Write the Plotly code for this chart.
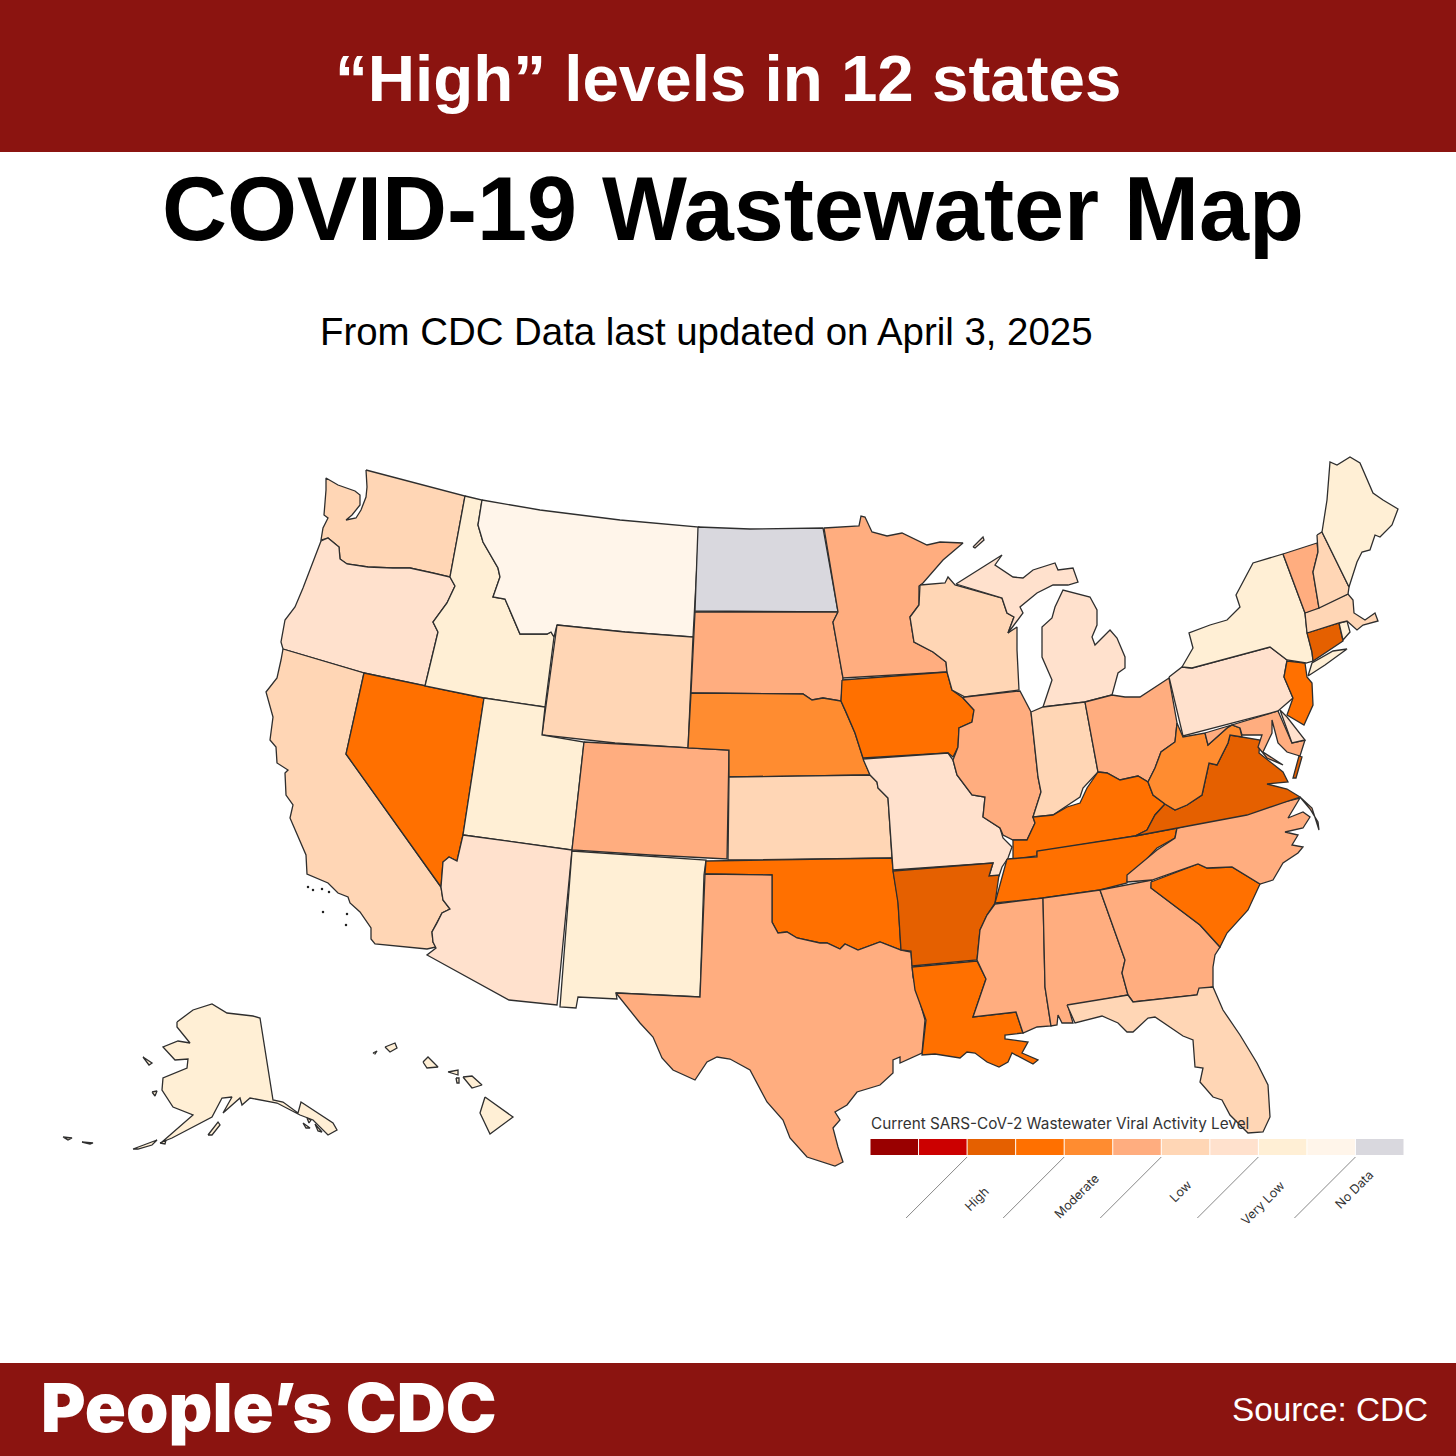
import plotly.graph_objects as go

# legend steps, darkest first
level_colors = ['#990000', '#CC0000', '#E56000', '#FF7000', '#FF8C30', '#FFAD7F',
                '#FFD6B5', '#FFE1CD', '#FFEFD5', '#FFF5EA', '#D9D8DE']
legend_labels = ['High', 'Moderate', 'Low', 'Very Low', 'No Data']
label_steps = [2, 4, 6, 8, 10]
label_x = [976, 1076, 1180, 1262, 1354]
label_y = [1199, 1196, 1191, 1203, 1189]

state_names = ['WA', 'OR', 'CA', 'NV', 'ID', 'MT', 'WY', 'UT', 'AZ', 'CO', 'NM', 'ND', 'SD', 'NE',
               'KS', 'OK', 'TX', 'MN', 'IA', 'MO', 'AR', 'LA', 'WI', 'IL', 'MI', 'IN', 'OH', 'KY',
               'TN', 'MS', 'AL', 'GA', 'FL', 'SC', 'NC', 'VA', 'WV', 'MD', 'DE', 'PA', 'NJ', 'NY',
               'CT', 'RI', 'MA', 'VT', 'NH', 'ME', 'AK', 'HI']
state_levels = [6, 7, 6, 3, 8, 9, 6, 8, 7, 5, 8, 10, 5, 4,
                6, 3, 5, 5, 3, 7, 2, 3, 6, 5, 7, 6, 5, 3,
                3, 5, 5, 5, 6, 3, 5, 2, 4, 5, 7, 7, 3, 8,
                2, 8, 6, 5, 6, 8, 8, 8]

# outlines, one list of parts per state
WA = [[(366, 470), (415, 483), (465, 496), (450, 577), (433, 573), (410, 568), (393, 568), (368, 567),
       (347, 564), (340, 559), (339, 547), (328, 538), (321, 540), (323, 528), (328, 518), (324, 515),
       (326, 490), (326, 478), (338, 485), (355, 491), (360, 495), (360, 505), (352, 515), (346, 520),
       (356, 518), (361, 510), (366, 497), (367, 487)]]
OR = [[(321, 541), (328, 538), (339, 547), (340, 559), (347, 564), (368, 567), (393, 568), (410, 568),
       (433, 573), (450, 577), (455, 586), (447, 603), (433, 622), (438, 632), (425, 686), (364, 673),
       (283, 649), (281, 642), (285, 620), (295, 607), (303, 588), (310, 570)]]
CA = [[(283, 649), (364, 673), (346, 754), (441, 887), (443, 900), (450, 909), (442, 913), (437, 923),
       (432, 932), (433, 942), (436, 947), (427, 949), (375, 944), (371, 939), (371, 928), (360, 912),
       (350, 903), (348, 897), (338, 893), (328, 883), (307, 874), (306, 855), (290, 818), (293, 805),
       (286, 795), (285, 773), (288, 770), (277, 763), (276, 747), (270, 740), (273, 717), (266, 692),
       (277, 678), (281, 660)]]
NV = [[(364, 673), (425, 686), (484, 698), (463, 835), (457, 861), (449, 857), (443, 862), (441, 887),
       (346, 754)]]
ID = [[(465, 496), (482, 500), (478, 525), (483, 542), (498, 568), (500, 577), (493, 597), (505, 599),
       (520, 634), (547, 634), (551, 632), (554, 637), (545, 707), (484, 698), (425, 686), (438, 632),
       (433, 622), (447, 603), (455, 586), (450, 577)]]
MT = [[(482, 500), (540, 510), (620, 520), (699, 527), (693, 637), (625, 632), (557, 625), (554, 637),
       (551, 632), (547, 634), (520, 634), (505, 599), (493, 597), (500, 577), (498, 568), (483, 542),
       (478, 525)]]
WY = [[(557, 625), (625, 632), (693, 637), (688, 748), (615, 743), (542, 735)]]
UT = [[(484, 698), (545, 707), (542, 735), (584, 742), (572, 850), (463, 835)]]
AZ = [[(463, 835), (572, 850), (557, 1005), (509, 1000), (427, 955), (436, 948), (433, 942), (432, 932),
       (437, 923), (442, 913), (450, 909), (443, 900), (441, 887), (443, 862), (449, 857), (457, 861)]]
CO = [[(584, 742), (688, 748), (729, 750), (727, 859), (650, 855), (572, 850)]]
NM = [[(572, 851), (650, 856), (706, 860), (704, 875), (700, 997), (616, 993), (617, 999), (578, 997),
       (576, 1008), (560, 1007)]]
ND = [[(698, 527), (750, 529), (823, 528), (833, 583), (838, 612), (695, 611)]]
SD = [[(695, 612), (838, 612), (833, 622), (838, 650), (843, 678), (841, 701), (823, 698), (812, 700),
       (803, 694), (691, 693)]]
NE = [[(691, 693), (803, 694), (812, 700), (823, 698), (841, 701), (846, 712), (855, 733), (863, 758),
       (870, 775), (729, 777), (729, 750), (688, 748)]]
KS = [[(729, 777), (870, 775), (877, 782), (878, 788), (888, 798), (892, 858), (728, 860)]]
OK = [[(706, 861), (892, 858), (893, 870), (898, 900), (901, 950), (880, 942), (858, 950), (845, 944),
       (840, 949), (827, 943), (820, 943), (797, 938), (787, 932), (778, 933), (772, 922), (772, 875),
       (705, 874)]]
TX = [[(705, 874), (772, 875), (772, 922), (778, 933), (787, 932), (797, 938), (820, 943), (827, 943),
       (840, 949), (845, 944), (858, 950), (880, 942), (901, 950), (911, 952), (913, 977), (925, 1020),
       (922, 1053), (900, 1063), (900, 1057), (893, 1060), (893, 1073), (880, 1085), (857, 1092),
       (847, 1105), (835, 1112), (840, 1120), (833, 1128), (838, 1147), (843, 1162), (835, 1166),
       (807, 1157), (790, 1138), (783, 1120), (767, 1102), (750, 1070), (730, 1059), (717, 1057),
       (707, 1062), (695, 1080), (673, 1070), (662, 1058), (653, 1037), (640, 1023), (617, 995),
       (616, 993), (700, 997)]]
MN = [[(824, 528), (859, 526), (861, 516), (865, 517), (872, 532), (887, 536), (902, 533), (927, 545),
       (940, 542), (963, 543), (943, 560), (923, 583), (919, 586), (919, 605), (910, 617), (914, 642),
       (933, 652), (946, 662), (947, 672), (843, 678), (838, 650), (833, 622), (838, 612), (833, 583)]]
IA = [[(842, 680), (947, 672), (952, 690), (963, 698), (974, 710), (972, 722), (959, 728), (958, 747),
       (953, 757), (948, 753), (863, 758), (855, 733), (846, 712), (841, 701)]]
MO = [[(863, 759), (948, 753), (953, 760), (957, 775), (972, 795), (985, 797), (983, 817), (1000, 828),
       (1003, 838), (1012, 847), (1008, 858), (1002, 867), (999, 876), (989, 876), (993, 863), (893, 870),
       (888, 798), (878, 788), (877, 782), (870, 775)]]
AR = [[(893, 871), (993, 863), (989, 876), (999, 875), (995, 903), (987, 915), (980, 930), (977, 960),
       (912, 966), (911, 951), (901, 950), (898, 903)]]
LA = [[(912, 967), (977, 961), (986, 979), (973, 1017), (1016, 1012), (1023, 1033), (1005, 1035),
       (1005, 1039), (1028, 1042), (1022, 1053), (1038, 1060), (1033, 1064), (1012, 1053), (1008, 1062),
       (999, 1067), (987, 1062), (975, 1053), (967, 1052), (960, 1058), (935, 1054), (922, 1055),
       (926, 1020), (915, 990)]]
WI = [[(920, 585), (945, 583), (948, 577), (955, 585), (1002, 598), (1007, 613), (1014, 617), (1008, 633),
       (1017, 627), (1017, 650), (1019, 690), (965, 697), (952, 690), (947, 672), (946, 662), (933, 652),
       (914, 642), (910, 617), (919, 605)]]
IL = [[(965, 697), (1020, 691), (1031, 712), (1038, 777), (1041, 792), (1033, 817), (1035, 823),
       (1027, 840), (1013, 840), (1003, 835), (1000, 828), (983, 817), (985, 797), (972, 795), (957, 775),
       (953, 760), (958, 747), (959, 728), (972, 722), (974, 710), (963, 698)]]
MI = [[(1043, 707), (1052, 680), (1042, 657), (1042, 627), (1052, 618), (1055, 607), (1063, 590),
       (1090, 597), (1097, 610), (1097, 625), (1092, 637), (1095, 645), (1110, 630), (1117, 638),
       (1125, 657), (1125, 668), (1118, 673), (1112, 695), (1085, 702)],
      [(956, 584), (987, 565), (1002, 555), (995, 565), (1013, 577), (1023, 578), (1033, 570), (1055, 563),
       (1058, 570), (1073, 568), (1078, 582), (1068, 585), (1053, 585), (1037, 593), (1020, 607),
       (1023, 613), (1008, 633), (1014, 617), (1007, 613), (1002, 598)],
      [(973, 547), (983, 537), (984, 540), (975, 548)]]
IN = [[(1031, 712), (1043, 707), (1085, 702), (1098, 772), (1083, 788), (1080, 797), (1068, 805),
       (1053, 815), (1033, 817), (1041, 792), (1038, 777)]]
OH = [[(1085, 702), (1112, 695), (1125, 697), (1140, 697), (1169, 678), (1177, 723), (1175, 742),
       (1161, 752), (1155, 768), (1148, 782), (1138, 776), (1120, 780), (1107, 773), (1098, 772)]]
KY = [[(1098, 772), (1107, 773), (1120, 780), (1138, 776), (1148, 782), (1153, 795), (1165, 804),
       (1155, 815), (1147, 830), (1135, 836), (1037, 852), (1037, 856), (1013, 859), (1013, 840),
       (1027, 840), (1035, 823), (1033, 817), (1053, 815), (1067, 807), (1080, 803), (1087, 788)]]
TN = [[(1007, 859), (1037, 857), (1037, 851), (1135, 836), (1177, 828), (1175, 838), (1157, 848),
       (1143, 863), (1128, 875), (1127, 883), (1100, 890), (1043, 898), (995, 903), (1000, 885)]]
MS = [[(995, 904), (1043, 898), (1045, 987), (1051, 1026), (1037, 1027), (1023, 1033), (1016, 1012),
       (973, 1017), (986, 979), (977, 960), (980, 930), (987, 915)]]
AL = [[(1043, 898), (1100, 890), (1125, 960), (1122, 973), (1128, 995), (1068, 1006), (1073, 1023),
       (1062, 1023), (1058, 1015), (1057, 1025), (1051, 1026), (1045, 987)]]
GA = [[(1100, 890), (1152, 880), (1151, 888), (1200, 925), (1220, 947), (1215, 955), (1213, 967),
       (1213, 987), (1199, 990), (1197, 995), (1133, 1002), (1128, 995), (1122, 973), (1125, 960)]]
FL = [[(1067, 1005), (1128, 995), (1133, 1002), (1197, 995), (1199, 988), (1213, 987), (1223, 1010),
       (1240, 1035), (1257, 1063), (1268, 1085), (1270, 1117), (1263, 1132), (1248, 1133), (1230, 1115),
       (1222, 1100), (1213, 1097), (1200, 1082), (1203, 1068), (1195, 1067), (1193, 1040), (1183, 1036),
       (1155, 1017), (1148, 1018), (1133, 1032), (1127, 1032), (1118, 1023), (1102, 1016), (1075, 1023)]]
SC = [[(1151, 882), (1198, 864), (1207, 868), (1232, 867), (1260, 884), (1248, 910), (1227, 933),
       (1220, 947), (1200, 925), (1151, 888)]]
NC = [[(1127, 882), (1127, 875), (1157, 850), (1175, 838), (1177, 828), (1300, 798), (1288, 818),
       (1303, 812), (1310, 817), (1303, 828), (1285, 832), (1298, 835), (1292, 845), (1303, 847),
       (1298, 853), (1283, 863), (1273, 880), (1260, 884), (1232, 867), (1207, 868), (1198, 864),
       (1152, 880)],
      [(1300, 797), (1312, 808), (1319, 830), (1318, 822), (1310, 809)]]
VA = [[(1230, 735), (1242, 737), (1260, 740), (1259, 753), (1283, 772), (1288, 782), (1267, 784),
       (1287, 789), (1300, 797), (1247, 815), (1177, 828), (1135, 836), (1147, 830), (1155, 815),
       (1165, 804), (1175, 810), (1187, 805), (1202, 795), (1209, 763), (1217, 765), (1228, 743)],
      [(1299, 756), (1293, 778), (1296, 778), (1302, 757)]]
WV = [[(1177, 723), (1183, 737), (1205, 733), (1208, 745), (1227, 728), (1232, 725), (1240, 728),
       (1242, 737), (1230, 735), (1228, 743), (1217, 765), (1209, 763), (1202, 795), (1187, 805),
       (1175, 810), (1165, 804), (1153, 795), (1148, 782), (1155, 768), (1161, 752), (1175, 742)]]
MD = [[(1205, 733), (1278, 711), (1292, 743), (1305, 740), (1300, 756), (1287, 752), (1278, 743),
       (1272, 720), (1272, 733), (1263, 752), (1283, 765), (1267, 758), (1258, 747), (1262, 735),
       (1242, 735), (1240, 728), (1232, 725), (1227, 728), (1208, 745)]]
DE = [[(1280, 710), (1287, 717), (1305, 740), (1292, 743)]]
PA = [[(1169, 677), (1182, 667), (1192, 668), (1270, 647), (1287, 660), (1284, 677), (1293, 698),
       (1278, 711), (1183, 736)]]
NJ = [[(1287, 661), (1305, 663), (1307, 677), (1312, 683), (1313, 705), (1304, 725), (1287, 715),
       (1293, 698), (1284, 677)]]
NY = [[(1182, 667), (1193, 648), (1189, 633), (1210, 625), (1227, 620), (1240, 607), (1236, 595),
       (1253, 563), (1283, 554), (1305, 613), (1307, 632), (1312, 652), (1313, 661), (1306, 663),
       (1287, 660), (1270, 647), (1192, 668)],
      [(1308, 676), (1325, 665), (1347, 649), (1333, 651), (1312, 663)]]
CT = [[(1307, 633), (1339, 623), (1343, 641), (1313, 661), (1312, 652)]]
RI = [[(1339, 623), (1347, 621), (1350, 632), (1343, 640)]]
MA = [[(1305, 613), (1348, 594), (1353, 600), (1354, 613), (1365, 620), (1375, 613), (1378, 621),
       (1363, 625), (1357, 630), (1347, 621), (1339, 623), (1307, 633)]]
VT = [[(1283, 554), (1317, 543), (1318, 552), (1313, 572), (1319, 608), (1305, 613)]]
NH = [[(1317, 535), (1322, 532), (1349, 587), (1348, 594), (1319, 608), (1313, 572), (1318, 552)]]
ME = [[(1322, 532), (1327, 500), (1330, 462), (1337, 465), (1350, 457), (1360, 463), (1373, 493),
       (1383, 500), (1398, 509), (1392, 525), (1380, 537), (1375, 535), (1370, 550), (1362, 552),
       (1357, 562), (1352, 578), (1349, 587)]]
AK = [[(177, 1022), (193, 1010), (212, 1004), (227, 1013), (253, 1016), (260, 1018), (273, 1100),
       (283, 1102), (298, 1113), (301, 1102), (333, 1123), (337, 1130), (328, 1135), (313, 1120),
       (300, 1115), (277, 1103), (250, 1098), (242, 1105), (240, 1098), (223, 1113), (232, 1097),
       (222, 1098), (212, 1117), (172, 1138), (162, 1142), (193, 1115), (173, 1107), (162, 1090),
       (163, 1078), (187, 1068), (188, 1059), (175, 1060), (163, 1047), (178, 1041), (190, 1043),
       (177, 1027)],
      [(208, 1135), (218, 1122), (220, 1125), (212, 1135)],
      [(143, 1057), (152, 1063), (149, 1065), (143, 1058)],
      [(152, 1092), (157, 1091), (155, 1096)],
      [(133, 1149), (150, 1143), (157, 1140), (152, 1145), (138, 1149)],
      [(82, 1142), (93, 1143), (90, 1144)],
      [(63, 1137), (72, 1138), (68, 1140)],
      [(307, 1118), (311, 1120), (309, 1123)],
      [(303, 1123), (310, 1128), (306, 1128)],
      [(315, 1124), (322, 1132), (318, 1131)],
      [(160, 1143), (166, 1140), (165, 1144)]]
HI = [[(385, 1047), (395, 1043), (397, 1048), (390, 1052)],
      [(423, 1062), (428, 1057), (438, 1067), (427, 1068)],
      [(448, 1072), (458, 1070), (458, 1075)],
      [(463, 1077), (472, 1076), (482, 1085), (472, 1088)],
      [(485, 1097), (513, 1117), (490, 1134), (480, 1113)],
      [(373, 1053), (377, 1051), (375, 1054)],
      [(456, 1078), (459, 1078), (459, 1083), (457, 1083)]]

# small islands round the california coast
speck_x = [308, 313, 322, 329, 323, 347, 346]
speck_y = [887, 890, 889, 892, 912, 914, 925]

outlines = [WA, OR, CA, NV, ID, MT, WY, UT, AZ, CO, NM, ND, SD, NE,
            KS, OK, TX, MN, IA, MO, AR, LA, WI, IL, MI, IN, OH, KY,
            TN, MS, AL, GA, FL, SC, NC, VA, WV, MD, DE, PA, NJ, NY,
            CT, RI, MA, VT, NH, ME, AK, HI]

fig = go.Figure()

for name, level, parts in zip(state_names, state_levels, outlines):
    xs, ys = [], []
    for part in parts:
        xs += [p[0] for p in part] + [part[0][0], None]
        ys += [p[1] for p in part] + [part[0][1], None]
    fig.add_trace(go.Scatter(x=xs, y=ys, mode='lines', fill='toself', name=name,
                             fillcolor=level_colors[level],
                             line=dict(color='#2e2e2e', width=1.3)))

fig.add_trace(go.Scatter(x=speck_x, y=speck_y, mode='markers', marker=dict(color='#222', size=2.5)))

banner = '#8B1410'
fig.add_shape(type='rect', xref='paper', yref='paper', x0=0, x1=1, y0=1 - 152 / 1456, y1=1,
              fillcolor=banner, line_width=0, layer='below')
fig.add_shape(type='rect', xref='paper', yref='paper', x0=0, x1=1, y0=0, y1=93 / 1456,
              fillcolor=banner, line_width=0, layer='below')


def add_text(text, x, y, size, color='black', anchor='center', family='Liberation Sans', weight=None, angle=0):
    fig.add_annotation(x=x, y=y, xref='x', yref='y', text=text, showarrow=False, xanchor=anchor,
                       yanchor='middle', textangle=angle,
                       font=dict(family=family, size=size, color=color, weight=weight))


add_text('“High” levels in 12 states', 728, 78, 65.5, 'white', weight='bold')
add_text('COVID-19 Wastewater Map', 733, 209, 90, 'black', weight='bold')
add_text('From CDC Data last updated on April 3, 2025', 706, 331, 38.4)
add_text('People’s CDC', 39, 1407, 68, 'white', anchor='left', family='Inter', weight=900)
add_text('Source: CDC', 1430, 1409, 33.3, 'white', anchor='right')

# legend: colour steps, then slanted ticks and labels
step_w = (1404 - 870) / len(level_colors)
for i, c in enumerate(level_colors):
    fig.add_shape(type='rect', x0=870 + i * step_w + 0.5, x1=870 + (i + 1) * step_w - 0.5, y0=1139, y1=1155,
                  fillcolor=c, line_width=0, layer='above')
add_text('Current SARS-CoV-2 Wastewater Viral Activity Level', 869, 1123, 15.3, '#333', anchor='left',
         family='Inter')
for lab, step, lx, ly in zip(legend_labels, label_steps, label_x, label_y):
    tick_x = 870 + step * step_w
    fig.add_shape(type='line', x0=tick_x, y0=1157, x1=tick_x - 61, y1=1218, line=dict(color='#888', width=1),
                  layer='above')
    add_text(lab, lx, ly, 12.5, '#333', family='Inter', angle=-45)

fig.update_xaxes(range=[0, 1456], visible=False)
fig.update_yaxes(range=[1456, 0], visible=False)
fig.update_layout(width=1456, height=1456, margin=dict(l=0, r=0, t=0, b=0), showlegend=False,
                  plot_bgcolor='white', paper_bgcolor='white')
fig.write_html("out.html", config={'displayModeBar': False}, post_script="document.body.style.margin='0'")
